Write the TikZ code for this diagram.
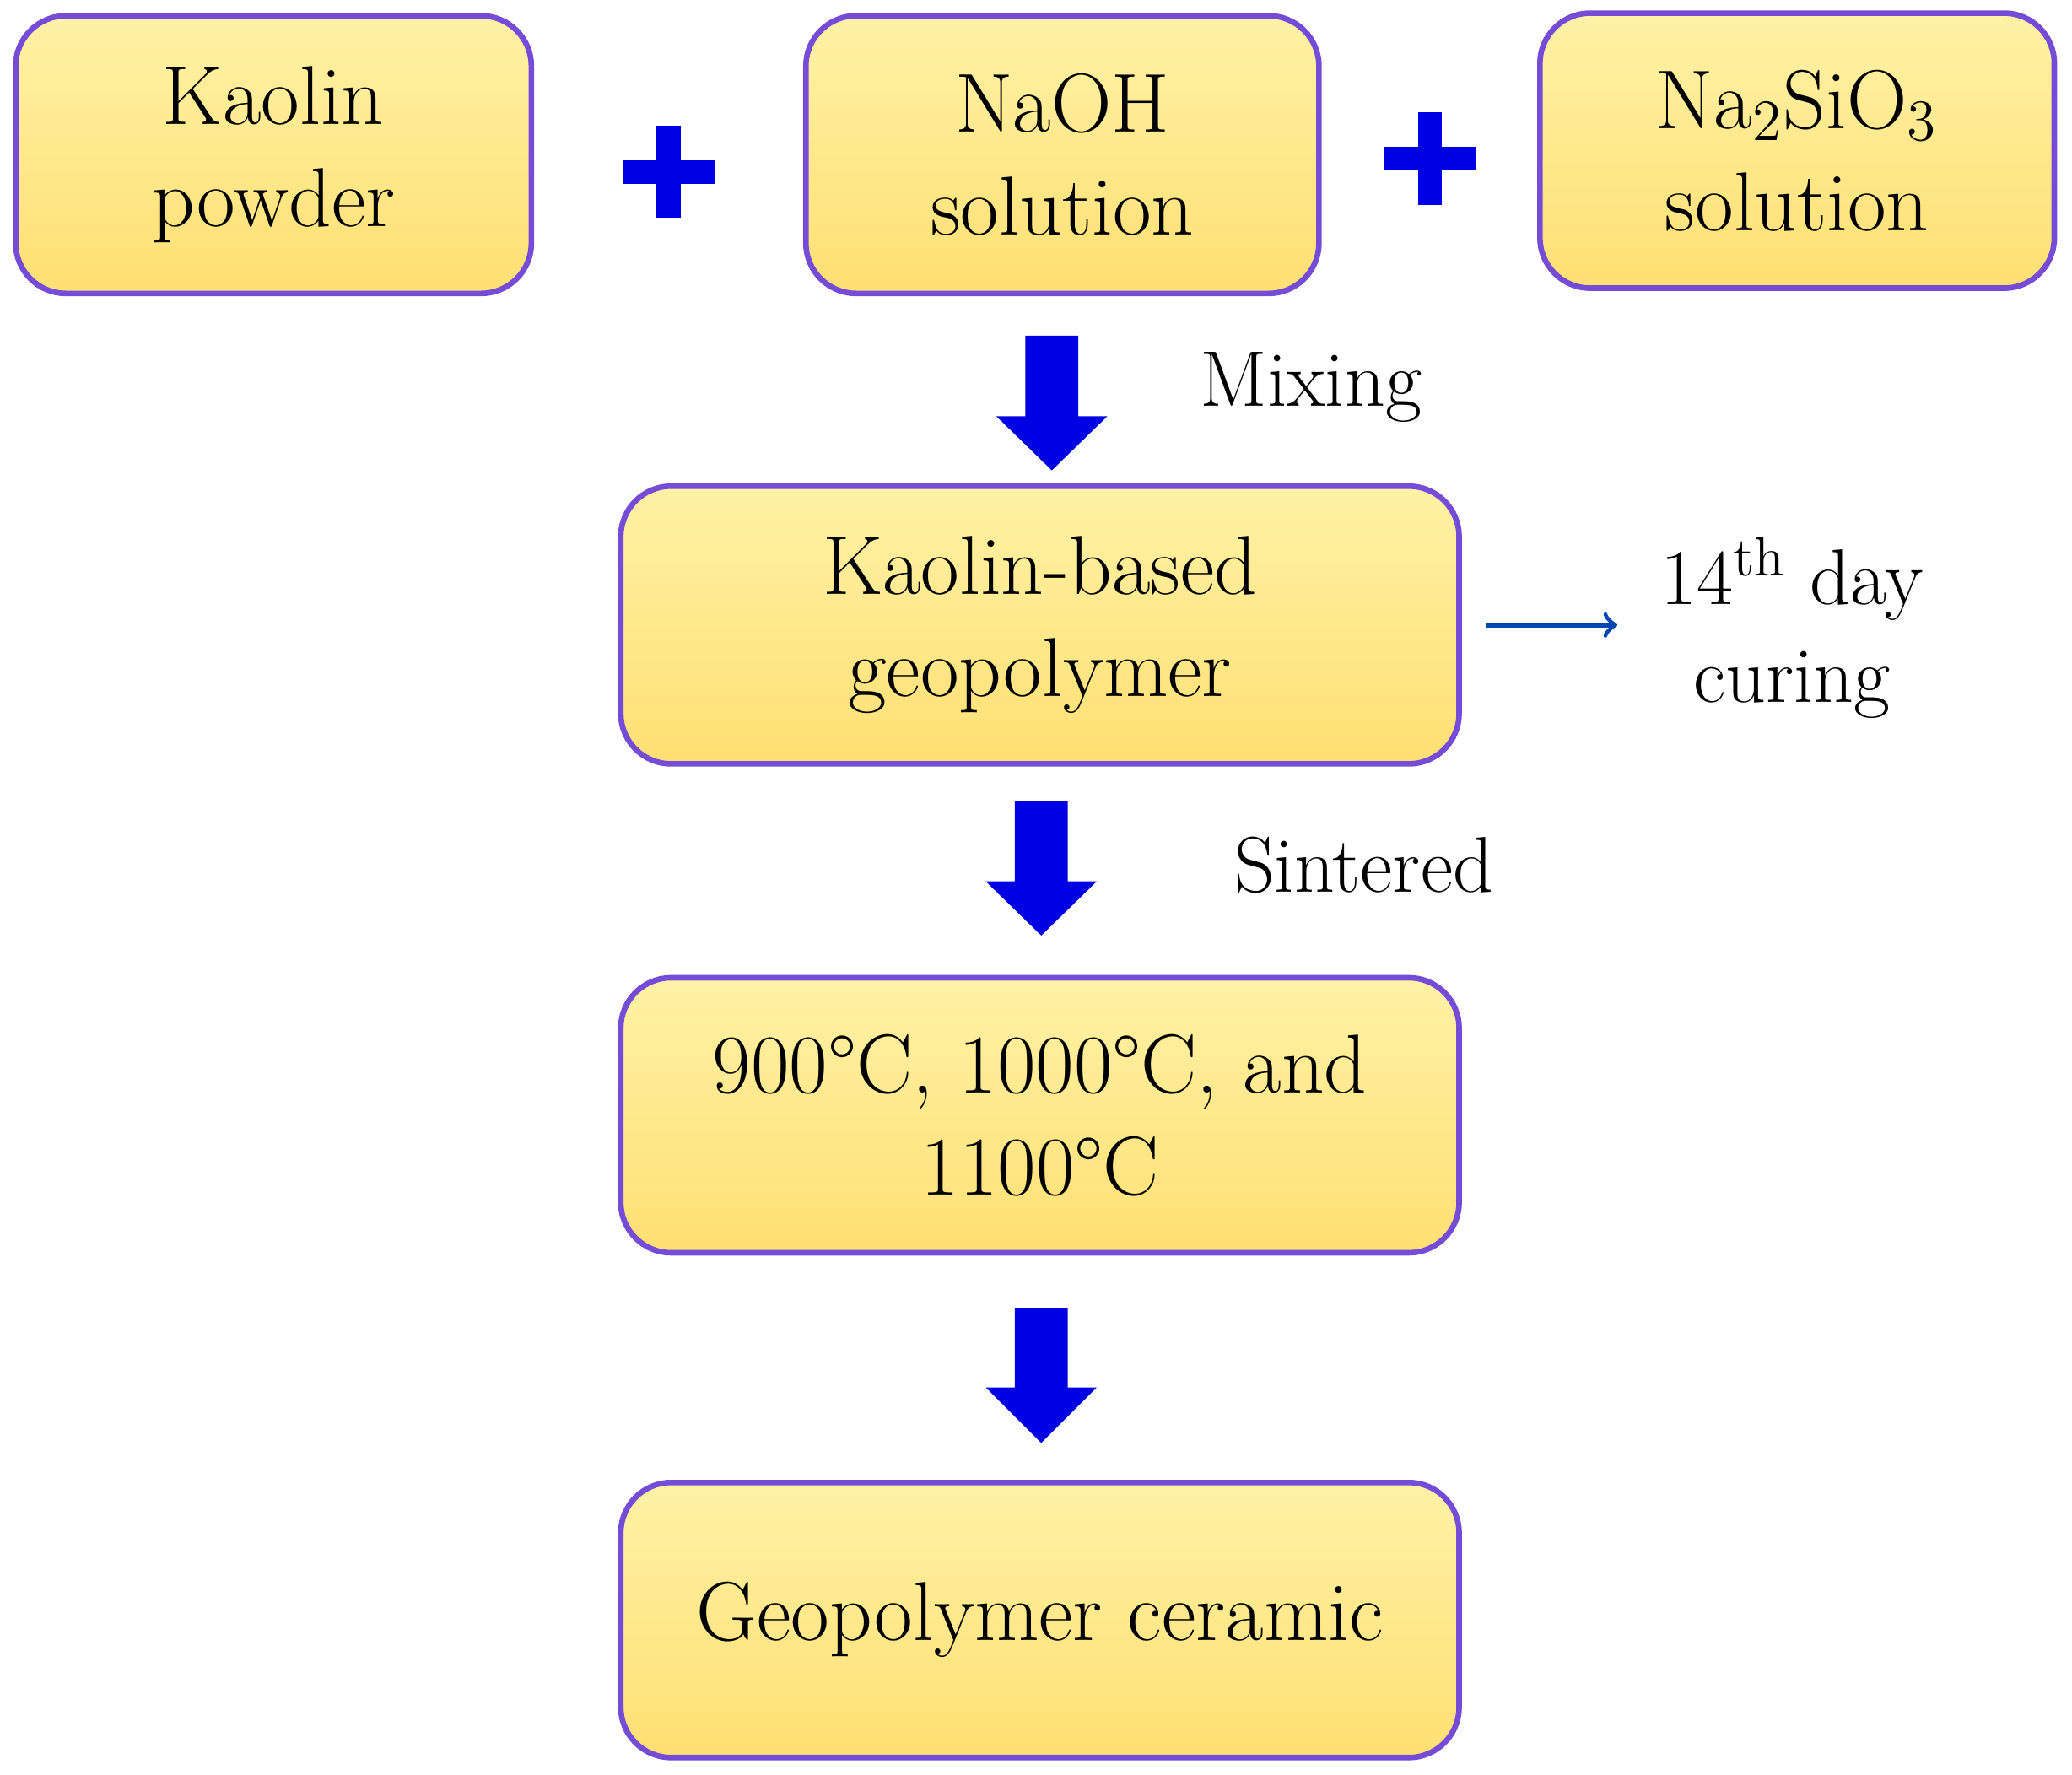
\documentclass[tikz,border=0pt]{standalone}
\begin{document}
\begin{tikzpicture}[x=0.01cm,y=-0.01cm,
  box/.style={draw=blue!55!violet!70!white,line width=1.2pt,rounded corners=0.38cm,top color=orange!30!yellow!35,bottom color=orange!45!yellow!55,inner sep=0pt,align=center,font=\fontsize{18}{22}\selectfont},
  lbl/.style={font=\fontsize{17}{21}\selectfont,align=center},
  big/.style={fill=blue!90!black,draw=none}]
\useasboundingbox (0,0) rectangle (1568,1343);
\node[box,minimum width=3.9cm,minimum height=2.1cm] (k) at (207,117) {Kaolin\\powder};
\node[box,minimum width=3.88cm,minimum height=2.1cm] (n) at (804,117) {NaOH\\solution};
\node[box,minimum width=3.89cm,minimum height=2.08cm] (s) at (1360,114) {Na\textsubscript{2}SiO\textsubscript{3}\\solution};
\node[box,minimum width=6.34cm,minimum height=2.1cm] (g) at (787,473) {Kaolin-based\\geopolymer};
\node[box,minimum width=6.34cm,minimum height=2.08cm] (t) at (787,844) {900\textdegree C, 1000\textdegree C, and\\1100\textdegree C};
\node[box,minimum width=6.34cm,minimum height=2.08cm] (c) at (787,1226) {Geopolymer ceramic};
% plus signs
\fill[big] (471,121) rectangle (541,139); \fill[big] (497,95) rectangle (515,165);
\fill[big] (1047,111) rectangle (1117,129); \fill[big] (1073,85) rectangle (1091,155);
% block arrows
\fill[big] (776,254) -- (816,254) -- (816,315) -- (838,315) -- (796,356) -- (754,315) -- (776,315) -- cycle;
\fill[big] (768,606) -- (808,606) -- (808,667) -- (830,667) -- (788,708) -- (746,667) -- (768,667) -- cycle;
\fill[big] (768,990) -- (808,990) -- (808,1050) -- (830,1050) -- (788,1092) -- (746,1050) -- (768,1050) -- cycle;
\node[lbl] (mix) at (992,293) {Mixing};
\node[lbl] (sin) at (1032,655) {Sintered};
\node[lbl] (cur) at (1356,475) {14\textsuperscript{th} day\\curing};
\coordinate (a0) at (1124,473);
\coordinate (a1) at (1224,473);
\draw[->,draw=blue!60!cyan!70!black,line width=1pt] (a0) -- (a1);
\end{tikzpicture}
\end{document}
